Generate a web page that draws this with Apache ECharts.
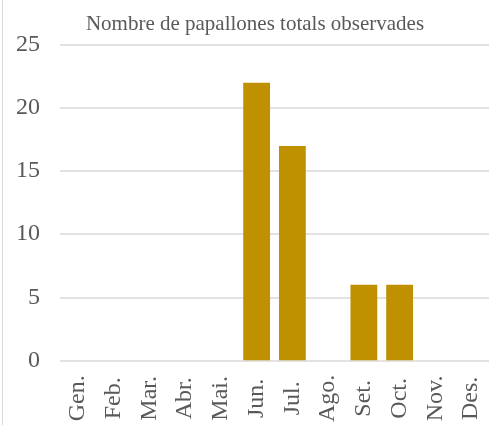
<!DOCTYPE html>
<html>
<head>
<meta charset="utf-8">
<script src="https://cdn.jsdelivr.net/npm/echarts@6/dist/echarts.min.js"></script>
<style>
  html, body { margin: 0; padding: 0; background: #fff; }
  #chart { width: 493px; height: 425px; }
</style>
</head>
<body>
<div id="chart"></div>
<script>
// Monthly butterfly counts
const months = ['Gen.', 'Feb.', 'Mar.', 'Abr.', 'Mai.', 'Jun.', 'Jul.', 'Ago.', 'Set.', 'Oct.', 'Nov.', 'Des.'];
const butterflies = [0, 0, 0, 0, 0, 22, 17, 0, 6, 6, 0, 0];
const yTicks = [0, 5, 10, 15, 20, 25];

const serif = '"Liberation Serif", "Times New Roman", serif';
const chart = echarts.init(document.getElementById('chart'));

chart.setOption({
  animation: false,
  title: {
    text: 'Nombre de papallones totals observades',
    left: 250,
    textAlign: 'center',
    top: 9,
    textStyle: { fontFamily: serif, fontSize: 21, fontWeight: 'normal', color: '#595959' }
  },
  grid: { left: 60, right: 4, top: 45, bottom: 63, containLabel: false },
  xAxis: {
    type: 'category',
    data: months,
    axisLine: { show: false },
    axisTick: { show: false },
    axisLabel: {
      rotate: 90,
      align: 'center',
      verticalAlign: 'middle',
      margin: 38,
      fontFamily: serif,
      fontSize: 24,
      color: '#595959',
      interval: 0
    }
  },
  yAxis: {
    type: 'value',
    min: yTicks[0],
    max: yTicks[yTicks.length - 1],
    interval: 5,
    axisLine: { show: false },
    axisTick: { show: false },
    axisLabel: { fontFamily: serif, fontSize: 24, color: '#595959', margin: 20 },
    splitLine: { lineStyle: { color: '#D9D9D9', width: 1.5 } }
  },
  series: [{
    type: 'bar',
    data: butterflies,
    barCategoryGap: '25%',
    itemStyle: { color: '#BF9000' }
  }],
  graphic: [{
    type: 'line',
    shape: { x1: 2.5, y1: 0, x2: 2.5, y2: 425 },
    style: { stroke: '#D9D9D9', lineWidth: 1 }
  }]
});
</script>
</body>
</html>
